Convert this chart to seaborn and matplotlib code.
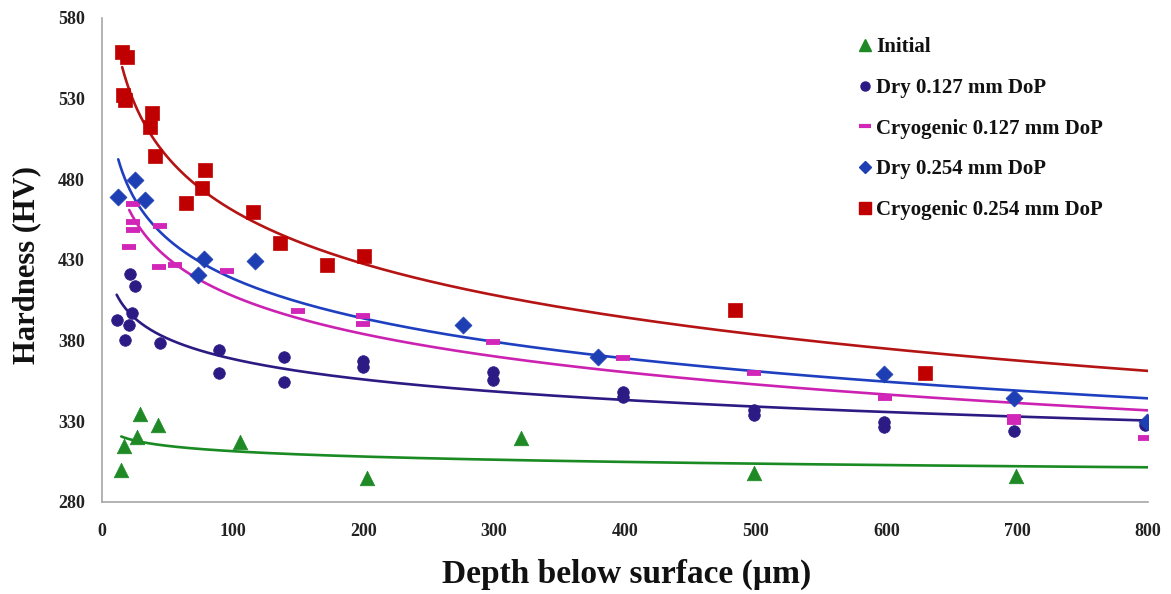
import numpy as np
import pandas as pd
import matplotlib
matplotlib.use("Agg")
import matplotlib.pyplot as plt
from matplotlib.lines import Line2D
import seaborn as sns

# ---------------- data ----------------
init_x = [15, 17, 27, 29, 43, 106, 203, 321, 499, 699]
init_y = [300, 314.5, 320, 334.5, 328, 317, 295, 319.5, 298, 296]

dry127_x = [11.5, 17.8, 20.9, 22.9, 21.5, 25.8, 44.6, 89.7, 89.7, 139.4, 139.4,
            199.5, 199.5, 299, 299, 398.6, 398.6, 498.7, 498.7, 598, 598, 697.5, 798]
dry127_y = [392.8, 380.4, 389.7, 397.1, 421.3, 413.8, 378.7, 374.2, 359.9, 369.8, 354.3,
            367.5, 363.6, 360.7, 355.6, 348.3, 345.2, 337, 333.9, 329.7, 326.6, 324.1, 328]

cryo127_x = [24, 24.2, 24.2, 21.1, 44.6, 44, 56, 95.6, 150, 199.5, 199.5,
             299, 399, 498.7, 599, 697.5, 697.5, 798]
cryo127_y = [465, 453.7, 448.6, 438.2, 451, 425.8, 426.9, 423.2, 398.5, 395.4, 390.3,
             379.3, 369.4, 359.7, 344.4, 332.8, 329.7, 319.4]

dry254_x = [12.7, 25.5, 33.1, 73.9, 78.2, 117.2, 276.2, 379.4, 598, 697.5, 799]
dry254_y = [469.2, 479.6, 467.2, 420.7, 430.4, 429.3, 389.7, 370, 359.3, 344.4, 329.3]

cryo254_x = [15.7, 19.1, 16.5, 17.8, 38.2, 36.9, 40.7, 79, 76.5, 64.3, 115.9,
             136.3, 172, 200.8, 484.2, 629.4]
cryo254_y = [558.7, 555.6, 532.3, 529.2, 521.3, 512.6, 494.4, 485.8, 474.4, 465.5, 459.9,
             440.7, 426.9, 432.4, 399, 359.7]

labels = ["Initial", "Dry 0.127 mm DoP", "Cryogenic 0.127 mm DoP",
          "Dry 0.254 mm DoP", "Cryogenic 0.254 mm DoP"]
x_ticks = [0, 100, 200, 300, 400, 500, 600, 700, 800]
y_ticks = [280, 330, 380, 430, 480, 530, 580]

# ---------------- styling ----------------
sns.set_theme(style="white")
plt.rcParams["font.family"] = ["Liberation Serif", "DejaVu Serif"]
plt.rcParams["font.weight"] = "bold"

series = [
    (init_x, init_y, "^", "#1f8a25", "#1a8a22", 110, None),
    (dry127_x, dry127_y, "o", "#2c1b84", "#2d1a82", 70, None),
    (cryo127_x, cryo127_y, "_", "#d126b8", "#cc22b2", 110, 4.2),
    (dry254_x, dry254_y, "D", "#1e3fb4", "#1e40c0", 75, None),
    (cryo254_x, cryo254_y, "s", "#c00000", "#b51414", 110, None),
]

fig = plt.figure(figsize=(11.71, 5.94), dpi=100)
ax = fig.add_axes([0.0868, 0.1549, 0.9803 - 0.0868, 0.9697 - 0.1549])

for (xs, ys, mk, mc, lc, s, lw), lab in zip(series, labels):
    xs = np.asarray(xs, float)
    ys = np.asarray(ys, float)
    df = pd.DataFrame({"x": xs, "y": ys})
    # logarithmic trendline, computed from the series
    a, b = np.polyfit(np.log(xs), ys, 1)
    gx = np.geomspace(xs.min(), 800, 300)
    gy = a * np.log(gx) + b
    sns.lineplot(x=gx, y=gy, ax=ax, color=lc, linewidth=1.9, zorder=2)
    if mk == "_":
        sns.scatterplot(data=df, x="x", y="y", ax=ax, marker=mk, s=s,
                        color=mc, linewidth=lw, zorder=3)
    else:
        sns.scatterplot(data=df, x="x", y="y", ax=ax, marker=mk, s=s,
                        color=mc, edgecolor=mc, linewidth=0.5, zorder=3)

ax.set_xlim(0, 800)
ax.set_ylim(280, 580)
ax.set_xticks(x_ticks)
ax.set_yticks(y_ticks)
ax.set_xticklabels([str(t) for t in x_ticks], fontsize=13, fontweight="bold", color="#222222")
ax.set_yticklabels([str(t) for t in y_ticks], fontsize=13, fontweight="bold", color="#222222")
ax.tick_params(axis="both", length=0)
ax.tick_params(axis="y", pad=12)
ax.tick_params(axis="x", pad=15)

for side in ["top", "right"]:
    ax.spines[side].set_visible(False)
for side in ["left", "bottom"]:
    ax.spines[side].set_color("#a6a6a6")
    ax.spines[side].set_linewidth(1.2)

ax.set_xlabel("Depth below surface (\u00b5m)", fontsize=24, fontweight="bold", color="#111111")
ax.set_ylabel("Hardness (HV)", fontsize=22, fontweight="bold", color="#111111")
ax.xaxis.set_label_coords(0.502, -0.118)
ax.yaxis.set_label_coords(-0.058, 0.49)

handles = []
for (xs, ys, mk, mc, lc, s, lw), lab in zip(series, labels):
    if mk == "_":
        h = Line2D([], [], linestyle="none", marker="_", markersize=8,
                   markeredgewidth=3, color=mc, label=lab)
    else:
        ms = {"^": 8, "o": 6.5, "D": 6, "s": 8}[mk]
        h = Line2D([], [], linestyle="none", marker=mk, markersize=ms,
                   color=mc, markeredgecolor=mc, label=lab)
    handles.append(h)

leg = ax.legend(handles=handles, loc="upper left", bbox_to_anchor=(0.713, 0.978),
                frameon=False, prop={"size": 15, "weight": "bold"},
                handletextpad=0.05, handlelength=0.9, labelspacing=1.0,
                borderaxespad=0)
for t in leg.get_texts():
    t.set_color("#111111")

fig.savefig("out.png", dpi=100, facecolor="white")
